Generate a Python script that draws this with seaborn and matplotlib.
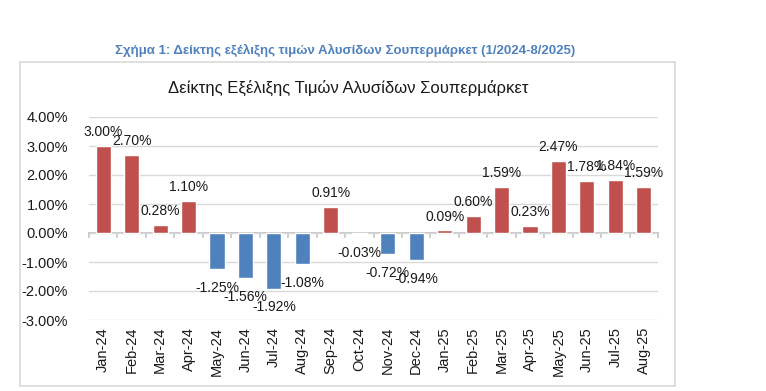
import matplotlib
matplotlib.use("Agg")
import matplotlib.pyplot as plt
from matplotlib.patches import Rectangle
import pandas as pd
import seaborn as sns

# Δεδομένα
months = ["Jan-24", "Feb-24", "Mar-24", "Apr-24", "May-24", "Jun-24", "Jul-24",
          "Aug-24", "Sep-24", "Oct-24", "Nov-24", "Dec-24", "Jan-25", "Feb-25",
          "Mar-25", "Apr-25", "May-25", "Jun-25", "Jul-25", "Aug-25"]
values = [3.00, 2.70, 0.28, 1.10, -1.25, -1.56, -1.92, -1.08, 0.91, -0.03,
          -0.72, -0.94, 0.09, 0.60, 1.59, 0.23, 2.47, 1.78, 1.84, 1.59]
y_ticks = [-3, -2, -1, 0, 1, 2, 3, 4]

caption = "Σχήμα 1: Δείκτης εξέλιξης τιμών Αλυσίδων Σουπερμάρκετ (1/2024-8/2025)"
title = "Δείκτης Εξέλιξης Τιμών Αλυσίδων Σουπερμάρκετ"

df = pd.DataFrame({"month": months, "value": values})
df["sign"] = ["pos" if v >= 0 else "neg" for v in values]

sns.set_theme(style="white")
plt.rcParams["font.family"] = ["Liberation Sans", "DejaVu Sans"]

fig = plt.figure(figsize=(7.66, 3.91), dpi=100)
ax = fig.add_axes([89 / 766, 1 - 320 / 391, 569 / 766, 203 / 391])

# πλαίσιο γραφήματος
fig.patches.append(Rectangle((20 / 766, 1 - 386 / 391), 655 / 766, 324 / 391,
                             transform=fig.transFigure, facecolor="none",
                             edgecolor="#D9D9D9", linewidth=1.2))

sns.barplot(data=df, x="month", y="value", hue="sign",
            palette={"pos": "#C0504D", "neg": "#4F81BD"}, saturation=1,
            dodge=False, width=0.53, legend=False, ax=ax, zorder=3)

ax.set_ylim(-3, 4)
ax.set_xlim(-0.5, len(months) - 0.5)
ax.set_yticks(y_ticks)
ax.set_yticklabels([f"{t:.2f}%" for t in y_ticks], fontsize=10.5, color="#1a1a1a")
ax.yaxis.grid(True, color="#D9D9D9", linewidth=1, zorder=0)
ax.set_axisbelow(True)
for s in ax.spines.values():
    s.set_visible(False)
ax.tick_params(axis="y", length=0, pad=15)
ax.tick_params(axis="x", length=0, pad=5)
ax.set_xticks(range(len(months)))
ax.set_xticklabels(months, rotation=90, fontsize=10.5, color="#1a1a1a")
ax.set_xlabel("")
ax.set_ylabel("")

# άξονας στο μηδέν με μικρές γραμμές
zero_ax = ax.secondary_xaxis(3 / 7)
zero_ax.spines["bottom"].set_color("#BFBFBF")
zero_ax.set_xticks([i - 0.5 for i in range(len(months) + 1)])
zero_ax.tick_params(length=3.5, color="#C8C8C8", labelbottom=False, direction="out")

# ετικέτες τιμών
for i, v in enumerate(values):
    off = 10 if v >= 0 else -13.5
    ax.annotate(f"{v:.2f}%", (i, v), xytext=(0, off), textcoords="offset points",
                ha="center", va="center", fontsize=10, color="#1a1a1a", zorder=5)

fig.text(345 / 766, 1 - 50 / 391, caption, ha="center", va="center",
         fontsize=9.5, fontweight="bold", color="#4F81BD")
fig.text(348 / 766, 1 - 88 / 391, title, ha="center", va="center",
         fontsize=12, color="#1a1a1a")

fig.savefig("out.png", dpi=100, facecolor="white")
